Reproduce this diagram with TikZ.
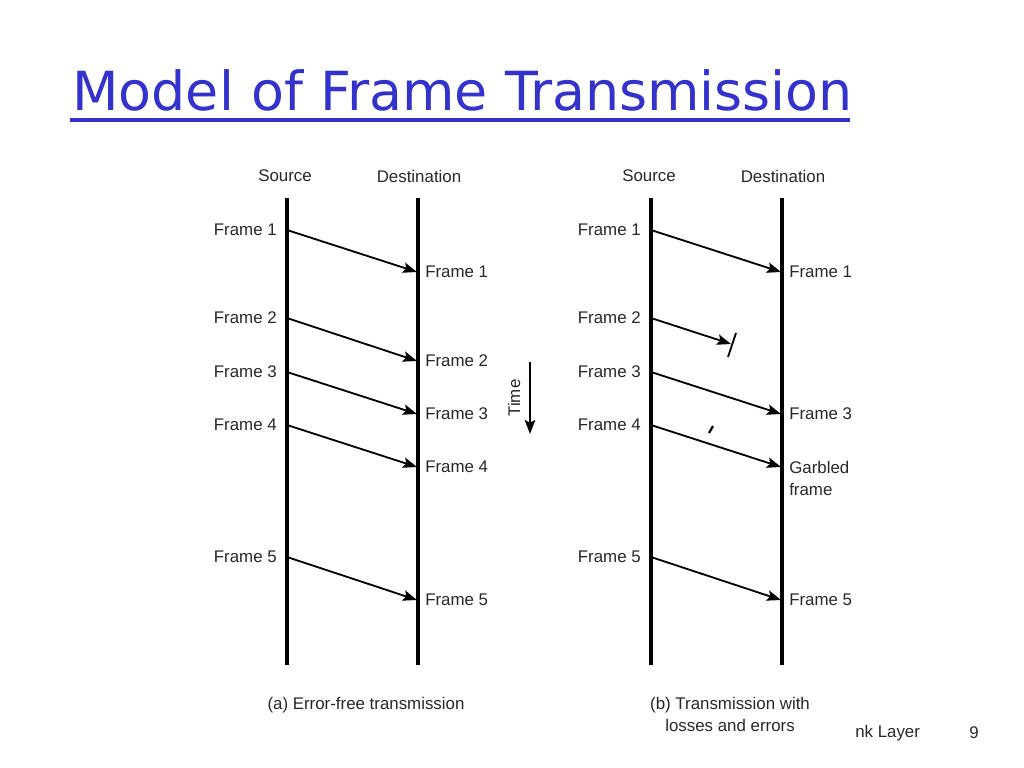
\documentclass[tikz,border=0pt]{standalone}
\usepackage{fontspec}
\setmainfont{Liberation Sans}
\newfontfamily\titlefont{DejaVu Sans}
\usetikzlibrary{arrows.meta}
\definecolor{titleblue}{RGB}{51,51,204}
\definecolor{lblgray}{RGB}{40,40,40}

\begin{document}
\begin{tikzpicture}[x=0.025cm,y=-0.025cm,
                    lifeline/.style={line width=2.6pt},
                    framearrow/.style={line width=1.3pt,-{Stealth[length=10pt,width=7.5pt,inset=2pt]}},
                    lbl/.style={font=\fontsize{12}{14}\selectfont,text=lblgray,inner sep=0pt}]
  \useasboundingbox (0,0) rectangle (1024,768);

  % title
  \node[anchor=base west,inner sep=0pt,text=titleblue,font=\titlefont\fontsize{38.3}{42}\selectfont] (title) at (72,111) {Model of Frame Transmission};
  \draw[titleblue,line width=2.8pt] (70,120) -- (850,120);

  % (a) error-free
  \node[lbl] (srcA) at (285,176) {Source};
  \node[lbl] (dstA) at (419,176) {Destination};
  \coordinate (srcAtop) at (287,198);
  \coordinate (srcAbot) at (287,665);
  \coordinate (dstAtop) at (418,198);
  \coordinate (dstAbot) at (418,665);
  \draw[lifeline] (srcAtop) -- (srcAbot);
  \draw[lifeline] (dstAtop) -- (dstAbot);
  \foreach \i/\ys/\yd in {1/230/272,2/318/361,3/372/414,4/425/467,5/557/600}{
    \coordinate (tA\i) at (287,\ys);
    \coordinate (hA\i) at (417,\yd);
    \node[lbl,anchor=east] (fsA\i) at (277,\ys) {Frame \i};
    \node[lbl,anchor=west] (fdA\i) at (425,\yd) {Frame \i};
    \draw[framearrow] (tA\i) -- (hA\i);
  }
  \node[lbl] (capA) at (366,705) {(a) Error-free transmission};

  % time arrow
  \node[lbl,rotate=90] (time) at (514,398) {Time};
  \coordinate (timetop) at (530,362);
  \coordinate (timebot) at (530,434);
  \draw[framearrow] (timetop) -- (timebot);

  % (b) losses and errors
  \node[lbl] (srcB) at (649,176) {Source};
  \node[lbl] (dstB) at (783,176) {Destination};
  \coordinate (srcBtop) at (651,198);
  \coordinate (srcBbot) at (651,665);
  \coordinate (dstBtop) at (782,198);
  \coordinate (dstBbot) at (782,665);
  \draw[lifeline] (srcBtop) -- (srcBbot);
  \draw[lifeline] (dstBtop) -- (dstBbot);
  \foreach \i/\ys in {1/230,2/318,3/372,4/425,5/557}{
    \coordinate (tB\i) at (651,\ys);
    \node[lbl,anchor=east] (fsB\i) at (641,\ys) {Frame \i};
  }
  \foreach \i/\yd in {1/272,3/414,5/600}{
    \coordinate (hB\i) at (781,\yd);
    \node[lbl,anchor=west] (fdB\i) at (789,\yd) {Frame \i};
    \draw[framearrow] (tB\i) -- (hB\i);
  }
  % lost frame
  \coordinate (hB2) at (731,344);
  \coordinate (lostA) at (736,333);
  \coordinate (lostB) at (728,357);
  \draw[framearrow] (tB2) -- (hB2);
  \draw[line width=1.3pt] (lostA) -- (lostB);
  % garbled frame
  \coordinate (hB4) at (781,467);
  \coordinate (hitA) at (713,426);
  \coordinate (hitB) at (709,433);
  \draw[framearrow] (tB4) -- (hB4);
  \draw[line width=1.6pt] (hitA) -- (hitB);
  \node[lbl,anchor=west] (gbB) at (789,467) {Garbled};
  \node[lbl,anchor=west] (gfB) at (789,489) {frame};
  \node[lbl] (capB1) at (730,705) {(b) Transmission with};
  \node[lbl] (capB2) at (730,725) {losses and errors};

  % footer
  \node[lbl,anchor=west] (layer) at (855,733) {nk Layer};
  \node[lbl] (page) at (974,733) {9};
\end{tikzpicture}
\end{document}
